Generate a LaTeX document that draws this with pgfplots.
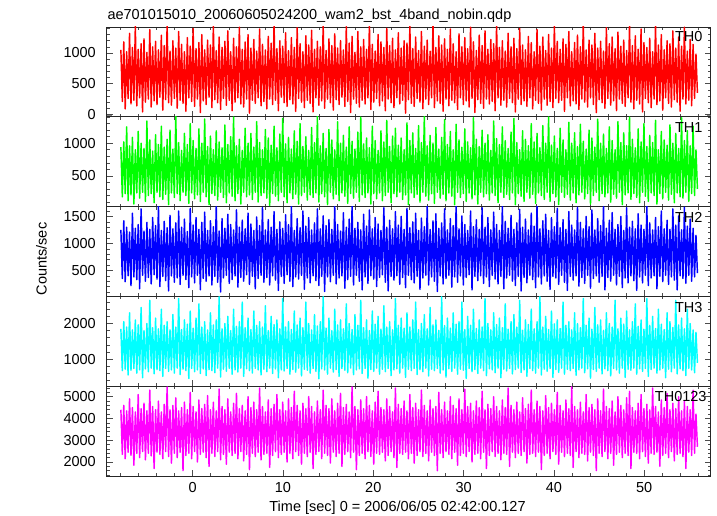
\documentclass[border=0pt]{standalone}
\usepackage{pgfplots}
\pgfplotsset{compat=1.18}
\usepackage{pgfplotstable}
\usepackage{fontspec}
\setmainfont{Liberation Sans}
\newcommand\chartfont{\fontsize{14.5bp}{17.4bp}\selectfont}

% columns: TH0 TH1 TH2 TH3 TH0123 (counts/sec), one row every 0.16 s from t=-7.95 s
\pgfplotstableread{
a b c d e
1050 940 1250 1850 4400
210 180 350 680 2350
1180 1020 1420 2050 4600
90 230 290 720 2150
1020 1250 1300 1900 4350
260 120 400 560 2450
1320 960 1210 2300 4900
170 210 220 690 2300
1090 1090 1560 1820 4500
230 70 380 740 1850
1440 900 1280 2100 4300
140 240 330 610 2400
1060 1180 1350 1960 5100
270 160 160 700 2200
1150 1000 1640 2450 4450
40 250 410 480 2480
1230 920 1230 1800 4700
200 110 300 730 2100
1010 1340 1390 2000 4350
250 200 370 650 2400
1380 1050 1260 2650 5300
120 230 250 750 2280
1100 880 1480 1880 4550
220 90 420 590 1700
1190 1130 1330 2150 4400
160 250 340 710 2450
1050 980 1700 1850 4800
280 180 200 680 2350
1290 1260 1240 2400 4300
70 140 390 520 2150
1120 940 1410 1950 4650
240 220 310 740 2480
1470 1060 1290 2050 5450
190 60 120 660 2250
1030 1200 1520 1820 4400
150 240 400 700 1950
1200 910 1270 2250 4600
260 170 280 610 2400
1080 1410 1380 1900 4950
100 230 360 750 2200
1350 1010 1600 2700 4350
230 120 240 570 2450
1140 890 1300 1830 4500
180 250 410 720 1600
1020 1150 1450 2100 4750
50 200 330 680 2300
1250 980 1220 1980 4400
270 80 180 460 2400
1110 1300 1650 2350 5200
210 240 380 740 2150
1400 1040 1340 1870 4550
130 150 270 650 2480
1070 920 1480 2150 4300
250 210 410 700 2000
1170 1220 1260 2550 4850
30 110 140 600 2350
1300 1000 1390 1900 4450
220 250 350 730 2450
1050 1370 1580 2050 4650
160 180 300 540 2200
1210 950 1240 1820 5050
280 60 400 710 1800
1130 1110 1420 2300 4400
110 230 230 680 2400
1450 900 1310 1960 4750
240 200 390 620 2250
1040 1190 1690 2100 4350
190 130 280 750 2480
1260 1020 1230 2750 5350
80 250 100 500 2100
1090 930 1460 1850 4550
260 170 360 720 2350
1190 1280 1280 2000 4400
150 90 410 660 1900
1360 980 1540 2200 4900
230 240 260 740 2450
1020 1100 1350 1800 4300
60 190 330 580 2300
1240 1400 1250 2400 4700
200 120 400 700 2400
1100 960 1620 1920 5150
270 230 190 640 2150
1420 1060 1300 2050 4450
170 70 370 750 2480
1060 890 1430 2600 4600
120 250 300 520 2050
1180 1230 1270 1880 4350
250 180 420 730 2350
1300 1000 1560 2150 5000
20 210 240 680 1650
1080 1150 1360 1830 4500
230 140 390 610 2400
1220 940 1240 2350 4750
180 250 160 740 2250
1030 1330 1490 1950 4400
270 100 350 700 2450
1390 1010 1330 2050 5400
140 200 410 560 2100
1140 900 1670 1900 4550
210 240 280 720 2350
1050 1210 1250 2500 4300
90 160 370 650 2400
1270 1080 1440 1800 4850
250 50 230 750 1750
1160 970 1300 2200 4450
160 230 400 600 2300
1480 1260 1590 1970 4650
230 190 320 730 2480
1070 930 1260 2100 5100
60 120 130 480 2200
1200 1140 1400 1850 4400
280 250 390 700 2350
1110 1380 1280 2700 4750
190 180 260 670 2450
1330 990 1530 1900 4350
130 90 420 740 2000
1040 1090 1350 2050 4900
240 240 300 580 2400
1250 910 1700 1830 4500
170 150 200 710 2150
1090 1190 1240 2350 5250
50 220 380 640 2480
1410 1030 1460 1960 4600
260 70 340 750 2300
1150 1300 1290 2150 4350
200 200 410 530 1900
1020 950 1600 1880 4700
110 250 150 720 2400
1280 1100 1320 2600 4450
230 130 360 690 2250
1130 890 1480 2000 5000
180 210 270 610 2450
1370 1240 1250 1820 4550
40 170 400 740 1700
1060 1010 1380 2250 4300
270 240 310 660 2350
1190 1420 1640 1930 4800
150 100 220 450 2480
1100 960 1270 2050 4400
220 230 390 730 2150
1460 1150 1510 2750 5300
100 180 110 700 2400
1040 920 1330 1870 4600
250 60 380 580 2300
1230 1210 1440 2150 4450
190 250 290 750 1950
1120 1050 1260 1800 4900
70 150 410 640 2450
1310 900 1690 2400 4350
240 220 250 710 2250
1080 1330 1350 1960 4700
160 120 360 520 2400
1200 1000 1230 2100 5150
280 240 400 740 1800
1050 1120 1570 1850 4500
130 190 170 690 2350
1430 940 1300 2550 4650
210 80 330 620 2480
1160 1250 1450 2000 4300
30 230 390 750 2200
1270 1030 1700 1830 5450
250 160 230 570 2450
1010 910 1280 2250 4550
180 250 410 700 1650
1350 1170 1390 1950 4400
120 110 300 730 2300
1100 1400 1250 2650 4850
230 210 140 600 2400
1220 990 1540 1880 4450
170 170 380 740 2150
1060 1080 1320 2100 5000
270 240 260 470 2480
1480 930 1620 1800 4600
80 70 400 710 2250
1140 1260 1270 2350 4350
200 230 340 660 1900
1030 1040 1480 1980 4750
260 150 200 750 2400
1300 890 1360 2200 5250
140 240 370 580 2350
1180 1190 1240 1840 4500
220 120 420 720 2450
1090 1020 1660 2500 4400
60 200 280 650 2050
1400 1350 1300 1900 4900
250 250 120 740 2300
1120 950 1430 2050 4550
190 90 390 540 2480
1240 1110 1270 1820 4300
110 230 320 700 2200
1050 1230 1590 2700 5400
270 180 400 730 1750
1330 970 1340 1950 4650
170 250 240 610 2400
1080 1080 1500 2150 4450
230 140 370 750 2350
1200 900 1260 1870 4800
20 210 180 490 2450
1160 1310 1650 2300 4350
240 60 410 720 2150
1440 1040 1290 1900 5100
180 240 330 680 2400
1070 1160 1400 2100 4500
130 170 270 740 1950
1260 920 1560 2600 4700
260 220 390 570 2300
1040 1270 1240 1830 4400
200 100 150 710 2480
1350 1010 1470 2000 5300
90 250 360 650 2250
1110 1410 1310 2250 4600
250 190 410 750 2400
1210 960 1690 1850 4350
160 130 230 530 2050
1030 1120 1260 2450 4850
270 230 380 720 2450
1470 1000 1420 1960 4450
110 80 300 680 2300
1090 1240 1550 2100 4550
220 250 110 740 1600
1280 910 1280 1810 5200
180 160 400 610 2400
1130 1090 1380 2750 4400
50 220 250 700 2200
1230 1360 1640 1940 4750
250 120 350 500 2480
1060 980 1250 2150 4350
140 240 410 730 2350
1390 1180 1460 1870 5000
230 190 190 660 2150
1150 900 1330 2300 4600
190 60 380 750 2450
1020 1290 1700 1980 4450
80 250 280 580 1850
1310 1050 1270 2050 4900
270 170 400 720 2300
1100 940 1510 2600 4400
160 230 230 690 2400
1250 1220 1350 1830 5350
220 110 370 460 2250
1070 1020 1240 2200 4550
120 240 420 740 2480
1420 930 1600 1950 4700
260 150 140 650 2000
1180 1390 1310 2400 4350
30 210 390 710 2350
1040 1060 1440 1860 4800
240 70 310 600 2400
1290 950 1260 2100 4500
180 250 400 750 2150
1120 1200 1660 1900 5250
100 180 260 680 2450
1360 1000 1300 2700 4400
250 230 380 540 1700
1060 1130 1480 2000 4650
170 130 200 730 2300
1220 890 1250 1820 4450
210 240 410 700 2480
1150 1340 1580 2300 5000
60 200 340 620 2250
1460 1070 1350 1970 4550
270 90 250 750 2400
1090 980 1240 2150 4350
150 250 390 480 2100
1200 1250 1690 1880 4850
230 170 160 720 2400
1030 1040 1410 2550 4500
120 220 360 670 2350
1320 920 1280 1840 5400
260 140 410 740 1800
1100 1170 1520 2050 4600
190 240 300 590 2450
1240 1380 1260 2250 4400
40 60 220 710 2200
1070 1010 1380 1900 4750
250 230 390 750 2400
1400 900 1630 2650 4300
160 190 120 630 2300
1130 1190 1300 1810 4950
220 110 370 700 2480
1050 1060 1450 2100 4450
130 250 270 520 1950
1270 960 1250 1970 4650
270 160 410 740 2350
1170 1300 1560 2400 5300
90 220 330 680 2400
1020 1020 1320 1850 4400
230 80 180 610 2250
1380 1150 1700 2050 4800
180 240 380 750 2450
1110 930 1270 2750 4550
70 200 250 560 1650
1260 1270 1420 1900 4350
250 140 400 720 2300
1040 1000 1540 2200 5050
150 250 300 660 2400
1300 1400 1240 1830 4500
210 110 150 740 2150
1080 970 1480 2350 4700
110 230 390 490 2480
1450 1110 1310 1990 4400
260 180 360 710 2350
1190 920 1650 2100 5200
190 60 240 630 1900
1060 1230 1290 1860 4600
230 250 410 750 2450
1230 1050 1440 2600 4350
50 170 280 580 2250
1140 900 1260 1950 4850
270 220 130 720 2400
1350 1320 1590 2050 4450
140 130 390 680 2300
1020 1000 1340 1820 5450
220 240 320 740 1750
1170 1160 1250 2300 4550
170 90 400 550 2480
1290 950 1670 2000 4400
80 210 210 700 2200
1100 1290 1390 1880 4750
250 250 370 750 2400
1480 1030 1270 2700 4300
200 150 260 620 2350
1050 910 1500 1950 5100
120 230 410 730 2050
1210 1200 1310 2150 4500
270 70 170 470 2450
1130 1080 1620 1840 4650
160 200 350 710 2300
1320 940 1250 2450 4400
30 250 400 660 1600
1080 1370 1460 1960 4900
240 120 280 750 2400
1190 1000 1330 2100 4350
190 230 390 590 2250
1030 1140 1690 1810 5350
100 180 140 730 2480
1410 920 1280 2300 4550
260 240 370 680 2150
1150 1250 1430 2000 4450
150 100 300 530 2400
1260 1040 1570 1900 4800
220 220 410 740 1850
1070 900 1260 2650 4300
60 160 230 700 2350
1340 1330 1350 1850 5000
250 250 390 610 2450
1110 1010 1500 2150 4600
180 60 180 750 2200
1210 1160 1240 1980 4400
130 210 360 490 2400
1040 960 1660 2350 4950
270 240 270 720 2300
1450 1400 1300 1820 5250
200 140 400 690 1700
1120 1060 1410 2050 4500
90 230 310 750 2450
1280 930 1270 2550 4350
230 170 130 580 2400
1060 1220 1550 1920 4700
170 90 380 730 2150
1390 1020 1340 2100 5100
40 250 270 660 2480
1170 1300 1260 1840 4450
260 190 410 740 2250
1090 950 1690 2700 4650
190 110 220 520 1950
1240 1120 1380 1950 4400
110 240 360 710 2400
1020 1010 1250 2200 5400
250 200 400 750 2350
1470 1350 1480 1860 4550
160 70 160 610 2450
1130 900 1310 2400 4300
220 230 390 700 1800
1300 1180 1600 1980 4850
70 150 290 740 2300
1050 1050 1270 1830 4500
270 250 410 480 2400
1200 970 1430 2300 5150
180 130 240 720 2200
1150 1280 1260 2050 4400
120 220 380 650 2480
1360 1000 1640 1890 4700
240 90 320 750 2050
1080 1150 1340 2650 4450
200 240 140 590 2350
1260 920 1510 1960 5000
50 180 400 730 2400
1110 1390 1250 2150 4350
250 160 350 680 2250
1420 1040 1670 1850 4800
170 250 260 540 1700
1030 1190 1320 2400 4550
230 110 410 740 2450
1220 960 1450 2000 4400
140 230 300 700 2300
1140 1260 1280 1820 5300
260 200 380 620 2400
980 900 1150 1750 4200
350 300 450 900 2700
}\rates

\pgfplotsset{
  panel/.style={
    scale only axis, width=604bp, height=89.8bp,
    xmin=-9.52, xmax=57.36,
    xtick={0,10,...,50},
    minor xtick={-8,-6,...,56},
    tick align=inside, xtick pos=both, ytick pos=both,
    major tick length=6bp, minor tick length=3bp,
    every tick/.style={black!70, line width=0.6bp},
    axis line style={line width=0.9bp, black!85},
    /pgf/number format/assume math mode=true,
    /pgf/number format/set thousands separator={},
    xticklabel style={font=\chartfont, inner sep=0pt, yshift=-5.7bp},
    yticklabel style={font=\chartfont, inner sep=0pt, xshift=-10.7bp},
    clip=true,
  },
  noxlab/.style={xticklabels={}},
  curve/.style={line width=1.45bp, line join=round},
}

\begin{document}
\begin{tikzpicture}
\useasboundingbox (0,0) rectangle (717bp,516bp);

\begin{axis}[panel, noxlab, at={(106.7bp,399.2bp)}, anchor=south west,
  ymin=-39, ymax=1423, ytick={0,500,1000}, minor ytick={0,100,...,1400}]
  \addplot[gray, line width=1.6bp] coordinates {(-9.52,-15) (-8.95,-15)};
  \addplot[gray, line width=1.6bp] coordinates {(56.95,-15) (57.36,-15)};
  \addplot[curve, color={rgb,255:red,255;green,0;blue,0}] table[x expr=-7.95+\coordindex*0.16, y=a] {\rates};
  \node[anchor=north east, inner sep=0pt, font=\chartfont, xshift=-8bp, yshift=-4.6bp] at (rel axis cs:1,1) {TH0};
\end{axis}

\begin{axis}[panel, noxlab, at={(106.7bp,309.4bp)}, anchor=south west,
  ymin=31, ymax=1404, ytick={500,1000}, minor ytick={100,200,...,1400}]
  \addplot[curve, color={rgb,255:red,0;green,255;blue,0}] table[x expr=-7.95+\coordindex*0.16, y=b] {\rates};
  \node[anchor=north east, inner sep=0pt, font=\chartfont, xshift=-8bp, yshift=-5.4bp] at (rel axis cs:1,1) {TH1};
\end{axis}

\begin{axis}[panel, noxlab, at={(106.7bp,219.6bp)}, anchor=south west,
  ymin=19, ymax=1682, ytick={500,1000,1500}, minor ytick={100,200,...,1600}]
  \addplot[curve, color={rgb,255:red,0;green,0;blue,255}] table[x expr=-7.95+\coordindex*0.16, y=c] {\rates};
  \node[anchor=north east, inner sep=0pt, font=\chartfont, xshift=-8bp, yshift=-5.4bp] at (rel axis cs:1,1) {TH2};
\end{axis}

\begin{axis}[panel, noxlab, at={(106.7bp,129.8bp)}, anchor=south west,
  ymin=244, ymax=2759, ytick={1000,2000}, minor ytick={400,600,...,2600}]
  \addplot[curve, color={rgb,255:red,0;green,255;blue,255}] table[x expr=-7.95+\coordindex*0.16, y=d] {\rates};
  \node[anchor=north east, inner sep=0pt, font=\chartfont, xshift=-8bp, yshift=-5.4bp] at (rel axis cs:1,1) {TH3};
\end{axis}

\begin{axis}[panel, at={(106.7bp,40bp)}, anchor=south west,
  ymin=1357, ymax=5482, ytick={2000,3000,4000,5000}, minor ytick={1400,1600,...,5400}]
  \addplot[curve, color={rgb,255:red,255;green,0;blue,255}] table[x expr=-7.95+\coordindex*0.16, y=e] {\rates};
  \node[anchor=north east, inner sep=0pt, font=\chartfont, xshift=-4bp, yshift=-5bp] at (rel axis cs:1,1) {TH0123};
\end{axis}

\node[anchor=base west, inner sep=0pt, font=\chartfont] at (107.3bp,496bp) {ae701015010\_20060605024200\_wam2\_bst\_4band\_nobin.qdp};
\node[anchor=base, rotate=90, inner sep=0pt, font=\chartfont] at (46.7bp,257bp) {Counts/sec};
\node[anchor=base, inner sep=0pt, font=\chartfont] at (397.5bp,4.3bp) {Time [sec] 0 = 2006/06/05 02:42:00.127};
\end{tikzpicture}
\end{document}
